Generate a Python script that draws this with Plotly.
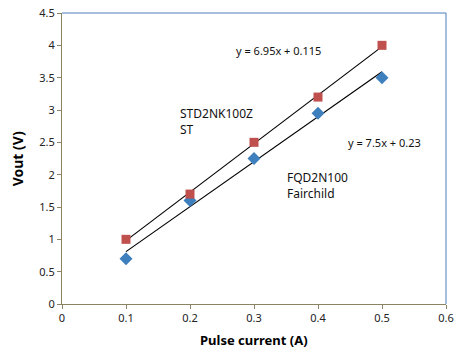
import numpy as np
import plotly.graph_objects as go

# Data
current = [0.1, 0.2, 0.3, 0.4, 0.5]
vout_st = [1.0, 1.7, 2.5, 3.2, 4.0]          # STD2NK100Z ST (red squares)
vout_fair = [0.7, 1.6, 2.25, 2.95, 3.5]      # FQD2N100 Fairchild (blue diamonds)
eq_labels = ["y = 6.95x + 0.115", "y = 7.5x + 0.23"]
x_ticks = [0, 0.1, 0.2, 0.3, 0.4, 0.5, 0.6]
y_ticks = [0, 0.5, 1, 1.5, 2, 2.5, 3, 3.5, 4, 4.5]

FONT = "Noto Sans"
RED = "#C0504D"
BLUE = "#3E7FBD"
AXIS = "#8A8463"
BORDER = "#4A7EBB"

fig = go.Figure()

# linear fits (trendlines)
for ys in (vout_st, vout_fair):
    m, b = np.polyfit(current, ys, 1)
    xs = np.array([current[0], current[-1]])
    fig.add_trace(go.Scatter(x=xs, y=m * xs + b, mode="lines",
                             line=dict(color="black", width=1.2),
                             showlegend=False, hoverinfo="skip"))

fig.add_trace(go.Scatter(x=current, y=vout_fair, mode="markers",
                         marker=dict(symbol="diamond", size=10, color=BLUE),
                         showlegend=False))
fig.add_trace(go.Scatter(x=current, y=vout_st, mode="markers",
                         marker=dict(symbol="square", size=9, color=RED),
                         showlegend=False))

ann_font = dict(family=FONT, size=11, color="#111111")
fig.add_annotation(x=0.339, y=3.92, text=eq_labels[0], showarrow=False,
                   xanchor="center", yanchor="middle", font=ann_font)
fig.add_annotation(x=0.504, y=2.5, text=eq_labels[1], showarrow=False,
                   xanchor="center", yanchor="middle", font=ann_font)
fig.add_annotation(x=0.181, y=2.82, text="STD2NK100Z<br>ST", showarrow=False,
                   xanchor="left", yanchor="middle", align="left",
                   font=dict(family=FONT, size=12, color="#111111"))
fig.add_annotation(x=0.349, y=1.83, text="FQD2N100<br>Fairchild", showarrow=False,
                   xanchor="left", yanchor="middle", align="left",
                   font=dict(family=FONT, size=12, color="#111111"))

# axis titles
fig.add_annotation(xref="paper", yref="paper", x=0.5, y=-0.124,
                   text="<b>Pulse current (A)</b>", showarrow=False,
                   xanchor="center", yanchor="middle",
                   font=dict(family=FONT, size=13, color="black"))
fig.add_annotation(xref="paper", yref="paper", x=-0.115, y=0.5,
                   text="<b>Vout (V)</b>", showarrow=False, textangle=-90,
                   xanchor="center", yanchor="middle",
                   font=dict(family=FONT, size=14, color="black"))

# top/right blue border
fig.add_shape(type="line", xref="paper", yref="paper", x0=0, x1=1, y0=1, y1=1,
              line=dict(color=BORDER, width=1))
fig.add_shape(type="line", xref="paper", yref="paper", x0=1, x1=1, y0=0, y1=1,
              line=dict(color=BORDER, width=1))

fig.update_xaxes(range=[0, 0.6], tickvals=x_ticks,
                 ticktext=[f"{v:g}" for v in x_ticks], automargin=False,
                 showgrid=False, zeroline=False, showline=True,
                 linecolor=AXIS, linewidth=1, ticks="outside",
                 tickcolor=AXIS, ticklen=4,
                 tickfont=dict(family=FONT, size=11, color="#222222"))
fig.update_yaxes(range=[0, 4.5], tickvals=y_ticks,
                 ticktext=[f"{v:g}" for v in y_ticks], automargin=False,
                 showgrid=False, zeroline=False, showline=True,
                 linecolor=AXIS, linewidth=1, ticks="outside",
                 tickcolor=AXIS, ticklen=4,
                 tickfont=dict(family=FONT, size=11, color="#222222"))

fig.update_layout(width=458, height=357,
                  margin=dict(l=62, r=12, t=13, b=53),
                  paper_bgcolor="white", plot_bgcolor="white",
                  showlegend=False)

# remove the default 8px page margin so the figure fills the window exactly
fig.write_html("out.html",
               config={"displayModeBar": False},
               post_script="document.body.style.margin='0';"
                           "document.body.style.overflow='hidden';")
